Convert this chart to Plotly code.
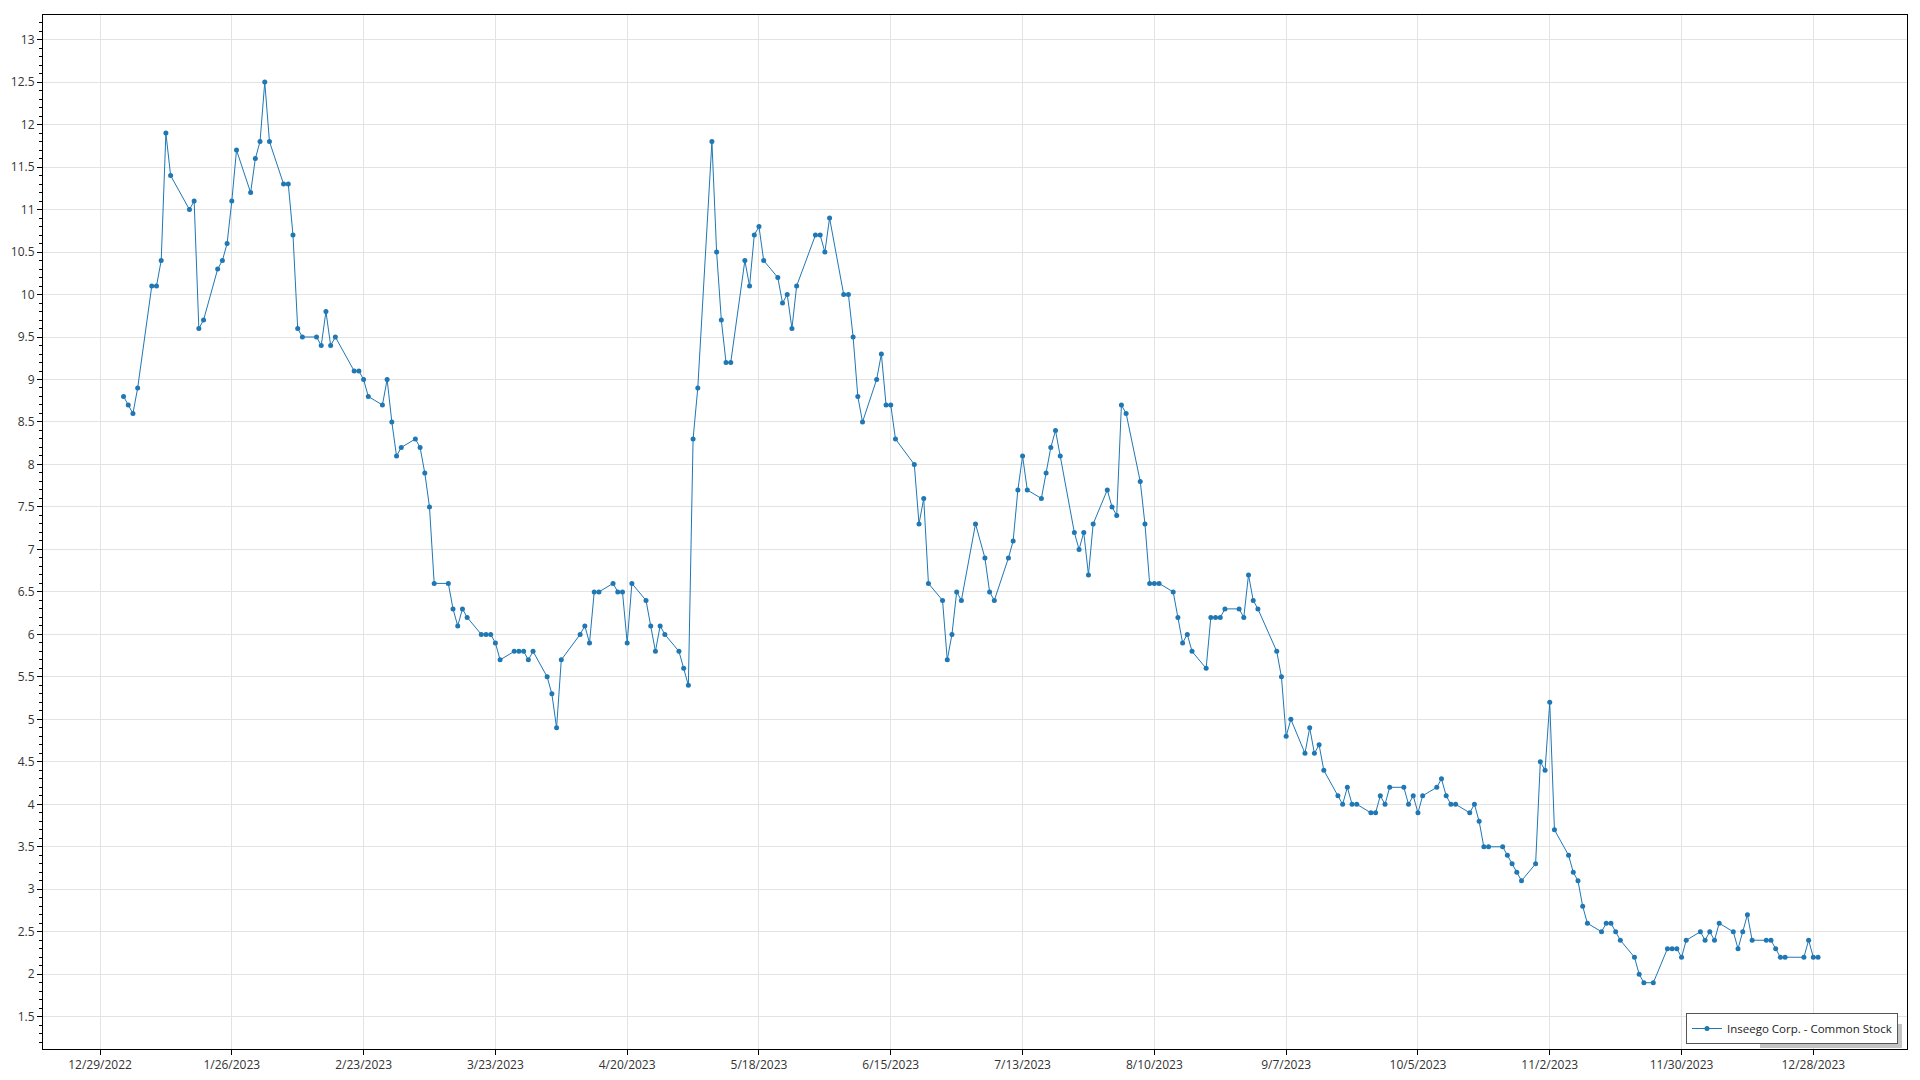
import plotly.graph_objects as go

# Trading dates (2023) and closing prices
trade_dates = [
    # Jan
    "2023-01-03", "2023-01-04", "2023-01-05", "2023-01-06", "2023-01-09", "2023-01-10", "2023-01-11",
    "2023-01-12", "2023-01-13", "2023-01-17", "2023-01-18", "2023-01-19", "2023-01-20", "2023-01-23",
    "2023-01-24", "2023-01-25", "2023-01-26", "2023-01-27", "2023-01-30", "2023-01-31",
    # Feb
    "2023-02-01", "2023-02-02", "2023-02-03", "2023-02-06", "2023-02-07", "2023-02-08", "2023-02-09",
    "2023-02-10", "2023-02-13", "2023-02-14", "2023-02-15", "2023-02-16", "2023-02-17", "2023-02-21",
    "2023-02-22", "2023-02-23", "2023-02-24", "2023-02-27", "2023-02-28",
    # Mar
    "2023-03-01", "2023-03-02", "2023-03-03", "2023-03-06", "2023-03-07", "2023-03-08", "2023-03-09",
    "2023-03-10", "2023-03-13", "2023-03-14", "2023-03-15", "2023-03-16", "2023-03-17", "2023-03-20",
    "2023-03-21", "2023-03-22", "2023-03-23", "2023-03-24", "2023-03-27", "2023-03-28", "2023-03-29",
    "2023-03-30", "2023-03-31",
    # Apr
    "2023-04-03", "2023-04-04", "2023-04-05", "2023-04-06", "2023-04-10", "2023-04-11", "2023-04-12",
    "2023-04-13", "2023-04-14", "2023-04-17", "2023-04-18", "2023-04-19", "2023-04-20", "2023-04-21",
    "2023-04-24", "2023-04-25", "2023-04-26", "2023-04-27", "2023-04-28",
    # May
    "2023-05-01", "2023-05-02", "2023-05-03", "2023-05-04", "2023-05-05", "2023-05-08", "2023-05-09",
    "2023-05-10", "2023-05-11", "2023-05-12", "2023-05-15", "2023-05-16", "2023-05-17", "2023-05-18",
    "2023-05-19", "2023-05-22", "2023-05-23", "2023-05-24", "2023-05-25", "2023-05-26", "2023-05-30",
    "2023-05-31",
    # Jun
    "2023-06-01", "2023-06-02", "2023-06-05", "2023-06-06", "2023-06-07", "2023-06-08", "2023-06-09",
    "2023-06-12", "2023-06-13", "2023-06-14", "2023-06-15", "2023-06-16", "2023-06-20", "2023-06-21",
    "2023-06-22", "2023-06-23", "2023-06-26", "2023-06-27", "2023-06-28", "2023-06-29", "2023-06-30",
    # Jul
    "2023-07-03", "2023-07-05", "2023-07-06", "2023-07-07", "2023-07-10", "2023-07-11", "2023-07-12",
    "2023-07-13", "2023-07-14", "2023-07-17", "2023-07-18", "2023-07-19", "2023-07-20", "2023-07-21",
    "2023-07-24", "2023-07-25", "2023-07-26", "2023-07-27", "2023-07-28", "2023-07-31",
    # Aug
    "2023-08-01", "2023-08-02", "2023-08-03", "2023-08-04", "2023-08-07", "2023-08-08", "2023-08-09",
    "2023-08-10", "2023-08-11", "2023-08-14", "2023-08-15", "2023-08-16", "2023-08-17", "2023-08-18",
    "2023-08-21", "2023-08-22", "2023-08-23", "2023-08-24", "2023-08-25", "2023-08-28", "2023-08-29",
    "2023-08-30", "2023-08-31",
    # Sep
    "2023-09-01", "2023-09-05", "2023-09-06", "2023-09-07", "2023-09-08", "2023-09-11", "2023-09-12",
    "2023-09-13", "2023-09-14", "2023-09-15", "2023-09-18", "2023-09-19", "2023-09-20", "2023-09-21",
    "2023-09-22", "2023-09-25", "2023-09-26", "2023-09-27", "2023-09-28", "2023-09-29",
    # Oct
    "2023-10-02", "2023-10-03", "2023-10-04", "2023-10-05", "2023-10-06", "2023-10-09", "2023-10-10",
    "2023-10-11", "2023-10-12", "2023-10-13", "2023-10-16", "2023-10-17", "2023-10-18", "2023-10-19",
    "2023-10-20", "2023-10-23", "2023-10-24", "2023-10-25", "2023-10-26", "2023-10-27", "2023-10-30",
    "2023-10-31",
    # Nov
    "2023-11-01", "2023-11-02", "2023-11-03", "2023-11-06", "2023-11-07", "2023-11-08", "2023-11-09",
    "2023-11-10", "2023-11-13", "2023-11-14", "2023-11-15", "2023-11-16", "2023-11-17", "2023-11-20",
    "2023-11-21", "2023-11-22", "2023-11-24", "2023-11-27", "2023-11-28", "2023-11-29", "2023-11-30",
    # Dec
    "2023-12-01", "2023-12-04", "2023-12-05", "2023-12-06", "2023-12-07", "2023-12-08", "2023-12-11",
    "2023-12-12", "2023-12-13", "2023-12-14", "2023-12-15", "2023-12-18", "2023-12-19", "2023-12-20",
    "2023-12-21", "2023-12-22", "2023-12-26", "2023-12-27", "2023-12-28", "2023-12-29",
]

close_prices = [
    # Jan
    8.8, 8.7, 8.6, 8.9, 10.1, 10.1, 10.4, 11.9, 11.4, 11.0, 11.1, 9.6, 9.7, 10.3, 10.4, 10.6, 11.1, 11.7, 11.2, 11.6,
    # Feb
    11.8, 12.5, 11.8, 11.3, 11.3, 10.7, 9.6, 9.5, 9.5, 9.4, 9.8, 9.4, 9.5, 9.1, 9.1, 9.0, 8.8, 8.7, 9.0,
    # Mar
    8.5, 8.1, 8.2, 8.3, 8.2, 7.9, 7.5, 6.6, 6.6, 6.3, 6.1, 6.3, 6.2, 6.0, 6.0, 6.0, 5.9, 5.7, 5.8, 5.8, 5.8, 5.7, 5.8,
    # Apr
    5.5, 5.3, 4.9, 5.7, 6.0, 6.1, 5.9, 6.5, 6.5, 6.6, 6.5, 6.5, 5.9, 6.6, 6.4, 6.1, 5.8, 6.1, 6.0,
    # May
    5.8, 5.6, 5.4, 8.3, 8.9, 11.8, 10.5, 9.7, 9.2, 9.2, 10.4, 10.1, 10.7, 10.8, 10.4, 10.2, 9.9, 10.0, 9.6, 10.1, 10.7, 10.7,
    # Jun
    10.5, 10.9, 10.0, 10.0, 9.5, 8.8, 8.5, 9.0, 9.3, 8.7, 8.7, 8.3, 8.0, 7.3, 7.6, 6.6, 6.4, 5.7, 6.0, 6.5, 6.4,
    # Jul
    7.3, 6.9, 6.5, 6.4, 6.9, 7.1, 7.7, 8.1, 7.7, 7.6, 7.9, 8.2, 8.4, 8.1, 7.2, 7.0, 7.2, 6.7, 7.3, 7.7,
    # Aug
    7.5, 7.4, 8.7, 8.6, 7.8, 7.3, 6.6, 6.6, 6.6, 6.5, 6.2, 5.9, 6.0, 5.8, 5.6, 6.2, 6.2, 6.2, 6.3, 6.3, 6.2, 6.7, 6.4,
    # Sep
    6.3, 5.8, 5.5, 4.8, 5.0, 4.6, 4.9, 4.6, 4.7, 4.4, 4.1, 4.0, 4.2, 4.0, 4.0, 3.9, 3.9, 4.1, 4.0, 4.2,
    # Oct
    4.2, 4.0, 4.1, 3.9, 4.1, 4.2, 4.3, 4.1, 4.0, 4.0, 3.9, 4.0, 3.8, 3.5, 3.5, 3.5, 3.4, 3.3, 3.2, 3.1, 3.3, 4.5,
    # Nov
    4.4, 5.2, 3.7, 3.4, 3.2, 3.1, 2.8, 2.6, 2.5, 2.6, 2.6, 2.5, 2.4, 2.2, 2.0, 1.9, 1.9, 2.3, 2.3, 2.3, 2.2,
    # Dec
    2.4, 2.5, 2.4, 2.5, 2.4, 2.6, 2.5, 2.3, 2.5, 2.7, 2.4, 2.4, 2.4, 2.3, 2.2, 2.2, 2.2, 2.4, 2.2, 2.2,
]

series_name = "Inseego Corp. - Common Stock"
x_tick_start = "2022-12-29"
x_tick_step_days = 28

W, H = 1920, 1080
ML, MR, MT, MB = 43, 13, 15, 31
PW, PH = W - ML - MR, H - MT - MB


def px_to_paper_x(px):
    return (px - ML) / PW


def px_to_paper_y(py):
    return (H - MB - py) / PH


fig = go.Figure()
fig.add_trace(go.Scatter(
    x=trade_dates, y=close_prices, name=series_name,
    mode="lines+markers",
    line=dict(color="#1f77b4", width=1),
    marker=dict(color="#1f77b4", size=5),
    showlegend=True,
))

font_family = "Open Sans, Noto Sans, DejaVu Sans, sans-serif"

# legend drop shadow (decorative), mostly hidden behind the legend box
fig.add_shape(
    type="rect", xref="paper", yref="paper", layer="above",
    x0=px_to_paper_x(1760), x1=px_to_paper_x(1902),
    y0=px_to_paper_y(1048), y1=px_to_paper_y(1024),
    line=dict(width=0), fillcolor="#c4c4c4",
)

fig.update_layout(
    width=W, height=H,
    margin=dict(l=ML, r=MR, t=MT, b=MB, pad=0, autoexpand=False),
    paper_bgcolor="white", plot_bgcolor="white",
    font=dict(family=font_family, size=12, color="#333333"),
    showlegend=True,
    legend=dict(
        x=px_to_paper_x(1898), y=px_to_paper_y(1044), xanchor="right", yanchor="bottom",
        bgcolor="white", bordercolor="#555555", borderwidth=1,
        font=dict(size=11.5, color="#222222"),
        itemwidth=30,
    ),
)

fig.update_xaxes(
    type="date", automargin=False,
    range=["2022-12-16 21:20", "2024-01-16 21:36"],
    tick0=x_tick_start, dtick=x_tick_step_days * 86400000,
    tickformat="%-m/%-d/%Y",
    showgrid=True, gridcolor="#e3e3e3", gridwidth=1,
    showline=True, linecolor="black", linewidth=1, mirror=True,
    ticks="outside", ticklen=5, tickcolor="black",
    zeroline=False,
    tickfont=dict(size=12, color="#333333"),
)

fig.update_yaxes(
    automargin=False,
    range=[1.12, 13.29],
    tick0=0, dtick=0.5,
    showgrid=True, gridcolor="#e3e3e3", gridwidth=1,
    showline=True, linecolor="black", linewidth=1, mirror=True,
    ticks="outside", ticklen=5, tickcolor="black",
    minor=dict(dtick=0.1, ticks="outside", ticklen=3, tickcolor="black", showgrid=False),
    zeroline=False,
    tickfont=dict(size=12, color="#333333"),
)

fig.write_html(
    "out.html",
    config={"displayModeBar": False},
    post_script="document.body.style.margin='0';document.body.style.overflow='hidden';",
)
